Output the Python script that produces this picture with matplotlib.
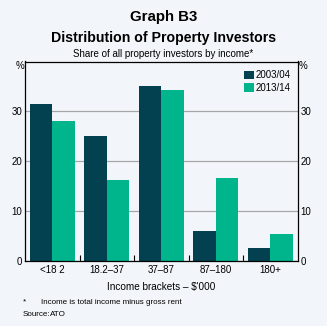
import matplotlib
matplotlib.use("Agg")
import matplotlib.pyplot as plt
import numpy as np

categories = ["<18 2", "18.2–37", "37–87", "87–180", "180+"]
series_2003 = [31.4, 25.0, 35.1, 6.0, 2.7]
series_2013 = [28.0, 16.2, 34.2, 16.7, 5.5]
series_labels = ["2003/04", "2013/14"]
yticks = [0, 10, 20, 30]

plt.rcParams['font.family'] = ['Liberation Sans', 'DejaVu Sans']

W, H = 327, 326
bg = "#F2F6FA"
dark = "#034050"
green = "#00B48C"

fig = plt.figure(figsize=(W/100, H/100), dpi=100, facecolor=bg)
ax = fig.add_axes([25/W, (H-261)/H, (297.5-25)/W, (261-61.5)/H], facecolor=bg)

x = np.arange(len(categories))
bw = 0.413
ax.bar(x - bw/2, series_2003, bw, color=dark, label=series_labels[0], zorder=3)
ax.bar(x + bw/2, series_2013, bw, color=green, label=series_labels[1], zorder=3)

ax.set_xlim(-0.5, len(categories) - 0.5)
ax.set_ylim(0, 40)
ax.set_yticks(yticks)
ax.set_yticklabels([str(v) for v in yticks])
ax.yaxis.grid(True, color="#A6A6A6", linewidth=0.9, zorder=1)
ax.tick_params(axis='y', length=0, labelsize=7, pad=2, labelright=True, right=False)
ax.set_xticks(x)
ax.set_xticklabels(categories)
ax.tick_params(axis='x', which='major', length=0, labelsize=7, pad=3)
ax.set_xticks(np.arange(0.5, len(categories) - 0.5, 1), minor=True)
ax.tick_params(axis='x', which='minor', length=4, direction='in', width=0.8)
for s in ax.spines.values():
    s.set_linewidth(0.9)
    s.set_color("black")
    s.set_zorder(4)

ax.set_xlabel("Income brackets – $'000", fontsize=7.2, labelpad=5)

leg = ax.legend(loc="upper right", bbox_to_anchor=(0.995, 0.985), frameon=False, fontsize=7,
                handlelength=1.0, handleheight=1.0, handletextpad=0.15, labelspacing=0.25,
                borderaxespad=0.2)

fig.text(20/W, 1 - 66/H, "%", fontsize=7, ha="center", va="center")
fig.text(303/W, 1 - 66/H, "%", fontsize=7, ha="center", va="center")

fig.text(0.5, 1 - 17/H, "Graph B3", fontsize=10.8, fontweight="bold", ha="center", va="center")
fig.text(0.5, 1 - 38/H, "Distribution of Property Investors", fontsize=10.2, fontweight="bold",
         ha="center", va="center")
fig.text(0.5, 1 - 54/H, "Share of all property investors by income*", fontsize=7.0,
         ha="center", va="center")

fig.text(23/W, 1 - 302/H, "*", fontsize=5.8, ha="left", va="center")
fig.text(41/W, 1 - 302/H, "Income is total income minus gross rent", fontsize=5.8, ha="left", va="center")
fig.text(23/W, 1 - 314/H, "Source:", fontsize=5.8, ha="left", va="center")
fig.text(50/W, 1 - 314/H, "ATO", fontsize=5.8, ha="left", va="center")

fig.savefig("out.png", dpi=100, facecolor=bg)
